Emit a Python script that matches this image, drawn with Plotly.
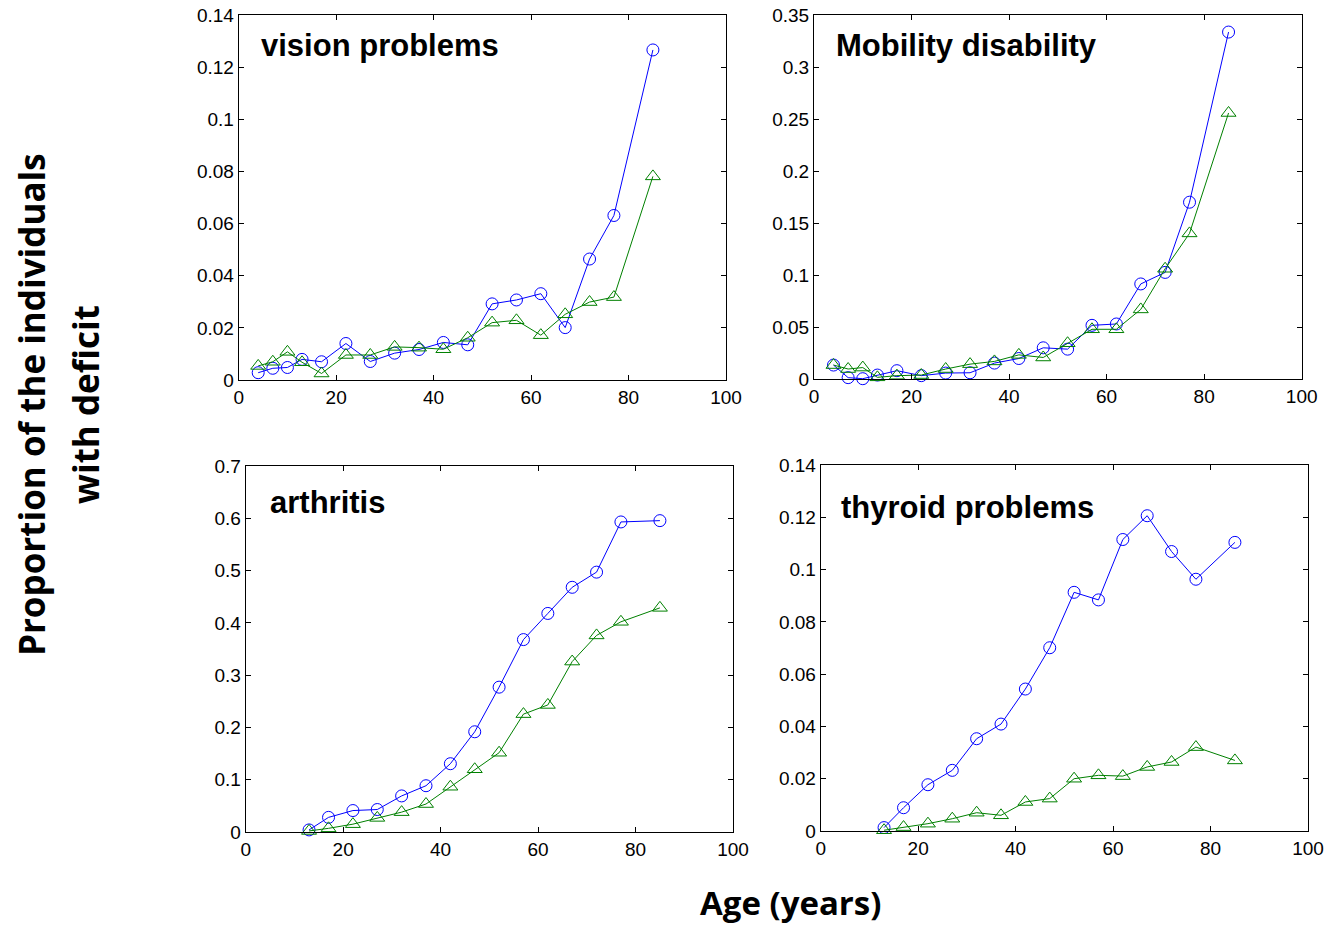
import plotly.graph_objects as go
from plotly.subplots import make_subplots

# Age-group midpoints (years)
ages_all = [4, 7, 10, 13, 17, 22, 27, 32, 37, 42, 47, 52, 57, 62, 67, 72, 77, 85]
ages_adult = [13, 17, 22, 27, 32, 37, 42, 47, 52, 57, 62, 67, 72, 77, 85]

# Vision problems
vision_circle = [0.0028, 0.0045, 0.0048, 0.0079, 0.0070, 0.0140, 0.0071, 0.0103, 0.0117,
                 0.0144, 0.0135, 0.0292, 0.0307, 0.0331, 0.0201, 0.0464, 0.0631, 0.1266]
vision_triangle = [0.0054, 0.0070, 0.0108, 0.0068, 0.0025, 0.0096, 0.0096, 0.0127, 0.0124,
                   0.0118, 0.0162, 0.0220, 0.0229, 0.0172, 0.0252, 0.0299, 0.0318, 0.0781]

# Mobility disability
mobility_circle = [0.0134, 0.0013, 0.0003, 0.0038, 0.0080, 0.0032, 0.0057, 0.0060, 0.0153,
                   0.0197, 0.0300, 0.0287, 0.0516, 0.0529, 0.0914, 0.1025, 0.1700, 0.3336]
mobility_triangle = [0.0134, 0.0096, 0.0110, 0.0016, 0.0032, 0.0038, 0.0096, 0.0143, 0.0169,
                     0.0232, 0.0207, 0.0344, 0.0478, 0.0478, 0.0669, 0.1060, 0.1400, 0.2558]

# Arthritis
arthritis_circle = [0.004, 0.028, 0.041, 0.043, 0.069, 0.0885, 0.1306, 0.1917, 0.277,
                    0.368, 0.418, 0.468, 0.497, 0.593, 0.5955]
arthritis_triangle = [0.002, 0.007, 0.015, 0.027, 0.038, 0.0535, 0.0866, 0.120, 0.1516,
                      0.2255, 0.243, 0.326, 0.376, 0.402, 0.4287]

# Thyroid problems
thyroid_circle = [0.0013, 0.0089, 0.0177, 0.0232, 0.0353, 0.0409, 0.0543, 0.0701, 0.0913,
                  0.0884, 0.1115, 0.1206, 0.1069, 0.0963, 0.1104]
thyroid_triangle = [0.0003, 0.0015, 0.0028, 0.0047, 0.0070, 0.0060, 0.0111, 0.0124, 0.0200,
                    0.0213, 0.0210, 0.0245, 0.0264, 0.0321, 0.0270]

panel_titles = ["vision problems", "Mobility disability", "arthritis", "thyroid problems"]
x_ticks = [0, 20, 40, 60, 80, 100]
y_ticks_small = [0, 0.02, 0.04, 0.06, 0.08, 0.1, 0.12, 0.14]
y_ticks_mob = [0, 0.05, 0.1, 0.15, 0.2, 0.25, 0.3, 0.35]
y_ticks_arth = [0, 0.1, 0.2, 0.3, 0.4, 0.5, 0.6, 0.7]

W, H = 1328, 930
BLUE = "#0000ff"
GREEN = "#008000"
TICK_FONT = dict(family="Arial, Liberation Sans, sans-serif", size=19, color="black")

fig = make_subplots(rows=2, cols=2)

panels = [
    (1, 1, ages_all, vision_circle, vision_triangle, y_ticks_small),
    (1, 2, ages_all, mobility_circle, mobility_triangle, y_ticks_mob),
    (2, 1, ages_adult, arthritis_circle, arthritis_triangle, y_ticks_arth),
    (2, 2, ages_adult, thyroid_circle, thyroid_triangle, y_ticks_small),
]

# pixel boxes of the four plot frames: left, top, right, bottom
boxes = [
    (238.7, 15, 726.0, 380),
    (814.0, 15, 1301.7, 379),
    (245.7, 466, 733.0, 832),
    (820.7, 465, 1308.0, 831),
]
# pixel anchor (left, vertical centre) of each panel title
title_pos = [(259, 46), (834, 46), (268, 502), (839, 507)]

for i, (r, c, ages, circ, tri, yt) in enumerate(panels):
    fig.add_trace(go.Scatter(
        x=ages, y=circ, mode="lines+markers",
        line=dict(color=BLUE, width=1),
        marker=dict(symbol="circle-open", size=12, color=BLUE, line=dict(width=1, color=BLUE)),
        showlegend=False, cliponaxis=False), row=r, col=c)
    fig.add_trace(go.Scatter(
        x=ages, y=tri, mode="lines+markers",
        line=dict(color=GREEN, width=1),
        marker=dict(symbol="triangle-up-open", size=13, color=GREEN, line=dict(width=1, color=GREEN)),
        showlegend=False, cliponaxis=False), row=r, col=c)

    left, top, right, bottom = boxes[i]
    xd = [left / W, right / W]
    yd = [1 - bottom / H, 1 - top / H]
    fig.update_xaxes(domain=xd, range=[0, 100], tickvals=x_ticks,
                     ticktext=[str(v) for v in x_ticks], row=r, col=c)
    fig.update_yaxes(domain=yd, range=[0, yt[-1]], tickvals=yt,
                     ticktext=[("%g" % v) for v in yt], row=r, col=c)

    tx, ty = title_pos[i]
    fig.add_annotation(
        text="<b>%s</b>" % panel_titles[i],
        xref="paper", yref="paper", x=tx / W, y=1 - ty / H,
        xanchor="left", yanchor="middle", showarrow=False,
        font=dict(family="Arial, Liberation Sans, sans-serif", size=31, color="black"))

fig.update_xaxes(showline=True, linecolor="black", linewidth=1, mirror="ticks",
                 ticks="inside", ticklen=5, tickcolor="black", showgrid=False,
                 zeroline=False, tickfont=TICK_FONT, automargin=False)
fig.update_yaxes(showline=True, linecolor="black", linewidth=1, mirror="ticks",
                 ticks="inside", ticklen=5, tickcolor="black", showgrid=False,
                 zeroline=False, tickfont=TICK_FONT, automargin=False)

AXIS_LABEL_FONT = dict(family="Open Sans, Noto Sans, sans-serif", size=34, color="black")

fig.add_annotation(text="<b>Proportion of the individuals</b>",
                   xref="paper", yref="paper", x=31 / W, y=1 - 405 / H,
                   xanchor="center", yanchor="middle", textangle=-90, showarrow=False,
                   font=dict(family="Open Sans, Noto Sans, sans-serif", size=35, color="black"))
fig.add_annotation(text="<b>with deficit</b>",
                   xref="paper", yref="paper", x=85 / W, y=1 - 405 / H,
                   xanchor="center", yanchor="middle", textangle=-90, showarrow=False,
                   font=dict(family="Open Sans, Noto Sans, sans-serif", size=35, color="black"))
fig.add_annotation(text="<b>Age (years)</b>",
                   xref="paper", yref="paper", x=790 / W, y=1 - 927 / H,
                   xanchor="center", yanchor="bottom", showarrow=False,
                   font=dict(family="Open Sans, Noto Sans, sans-serif", size=33, color="black"))

fig.update_layout(width=W, height=H, margin=dict(l=0, r=0, t=0, b=0),
                  paper_bgcolor="white", plot_bgcolor="white")

fig.write_html("out.html")
